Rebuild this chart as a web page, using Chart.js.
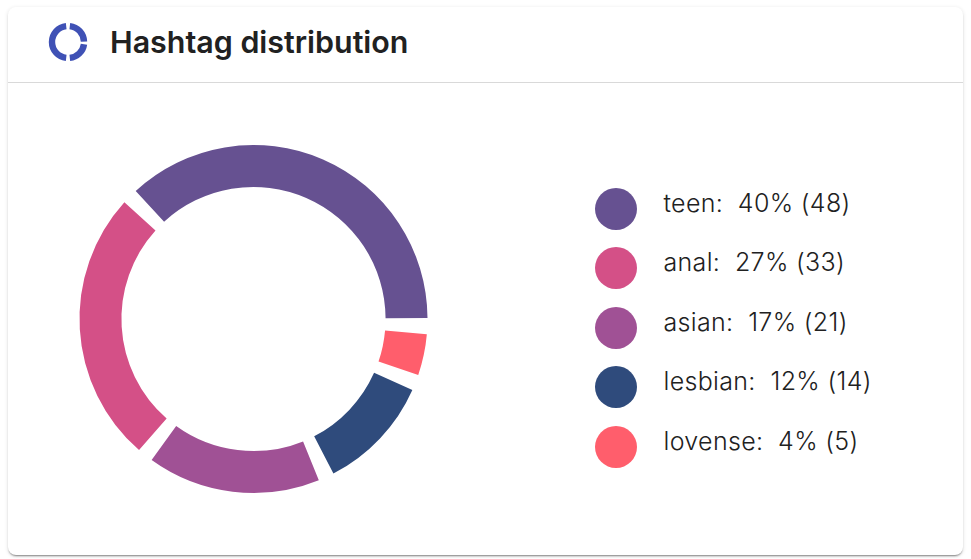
<!DOCTYPE html>
<html>
<head>
<meta charset="utf-8">
<title>Hashtag distribution</title>
<script src="https://cdn.jsdelivr.net/npm/chart.js@4"></script>
<style>
    html, body { margin: 0; padding: 0; background: #fff; }
    body { width: 971px; height: 559px; overflow: hidden; position: relative; font-family: Inter, sans-serif; color: #212121; }
    .card { position: absolute; left: 8px; top: 7px; width: 955px; height: 548px; background: #fff; border-radius: 8px;
        box-shadow: 0 2px 2px -1px rgba(0,0,0,.45), 0 1px 4px rgba(0,0,0,.12); }
    .head-line { position: absolute; left: 8px; top: 82px; width: 955px; height: 1px; background: #d9d9d9; }
    .icon { position: absolute; left: 47.5px; top: 22px; }
    h1 { position: absolute; left: 110px; top: 25px; margin: 0; font-size: 30.4px; line-height: 34px; font-weight: 600; color: #212121; white-space: nowrap; }
    #chartBox { position: absolute; left: 53px; top: 119px; width: 401px; height: 400px; }
    .legend-row { position: absolute; left: 595px; height: 42px; white-space: pre; font-size: 25px; line-height: 30px; letter-spacing: .33px; font-weight: 350; }
    .legend-row i { position: absolute; left: 0; top: 0; width: 42px; height: 42px; border-radius: 50%; }
    .legend-row span { position: absolute; left: 68.5px; top: 0; }
</style>
</head>
<body>
<div class="card"></div>
<div class="head-line"></div>
<svg class="icon" width="40" height="40" viewBox="0 0 40 40" fill="none" stroke="#3f51b5" stroke-width="6.4">
    <path d="M18.2 4.1 A16 16 0 0 0 18.2 35.9"/>
    <path d="M21.8 4.1 A16 16 0 0 1 36 19.6"/>
    <path d="M36 22.2 A16 16 0 0 1 21.8 35.9"/>
</svg>
<h1>Hashtag distribution</h1>
<div id="chartBox"><canvas id="hashtagChart" width="401" height="400"></canvas></div>
<div id="legend"></div>

<script>
var categories = ['teen', 'anal', 'asian', 'lesbian', 'lovense'];
var counts = [48, 33, 21, 14, 5];
var percents = [40, 27, 17, 12, 4];
var colors = ['#665191', '#d45087', '#a05195', '#2f4b7c', '#ff5e6c'];
var legendTops = [188, 247, 307, 366, 426];

// White pad between slices, same units as the counts
var padValue = 1.92;

// Slices run clockwise from 3 o'clock, so the list goes in reverse
var chartLabels = [];
var chartValues = [];
var chartColors = [];
for (var i = categories.length - 1; i >= 0; i--) {
    chartLabels.push('', categories[i]);
    chartValues.push(padValue, counts[i]);
    chartColors.push('rgba(0,0,0,0)', colors[i]);
}

var ctx = document.getElementById('hashtagChart').getContext('2d');
var hashtagChart = new Chart(ctx, {
    type: 'doughnut',
    data: {
        labels: chartLabels,
        datasets: [{
            data: chartValues,
            backgroundColor: chartColors,
            borderWidth: 0
        }]
    },
    options: {
        responsive: false,
        animation: false,
        rotation: 89.7,
        radius: 174,
        cutout: '75.9%',
        plugins: {
            legend: { display: false },
            tooltip: { enabled: false }
        }
    }
});

// Legend on the right
var legend = document.getElementById('legend');
categories.forEach(function(name, i) {
    var row = document.createElement('div');
    row.className = 'legend-row';
    row.style.top = legendTops[i] + 'px';
    var dot = document.createElement('i');
    dot.style.background = colors[i];
    var text = document.createElement('span');
    text.textContent = name + ':  ' + percents[i] + '% (' + counts[i] + ')';
    row.appendChild(dot);
    row.appendChild(text);
    legend.appendChild(row);
});
</script>
</body>
</html>
